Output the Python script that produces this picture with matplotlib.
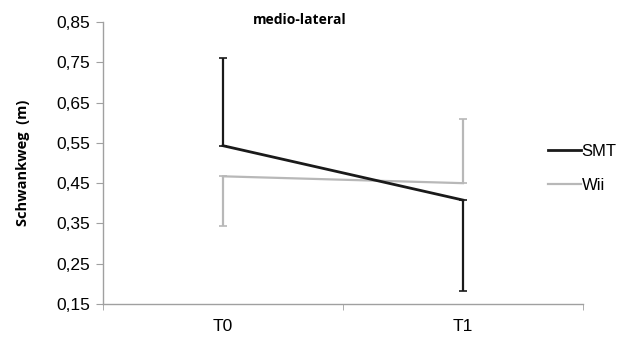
import numpy as np
import matplotlib.pyplot as plt
from matplotlib.ticker import FixedLocator, FuncFormatter

# data
times = ["T0", "T1"]
smt_mean = [0.543, 0.408]
smt_err_up = [0.218, 0.0]
smt_err_down = [0.0, 0.225]
wii_mean = [0.467, 0.450]
wii_err_up = [0.0, 0.160]
wii_err_down = [0.124, 0.0]
y_ticks = [0.15, 0.25, 0.35, 0.45, 0.55, 0.65, 0.75, 0.85]

plt.rcParams['font.family'] = ['Liberation Sans', 'DejaVu Sans']

fig = plt.figure(figsize=(6.34, 3.40), dpi=100)
ax = fig.add_axes([0.1625, 0.106, 0.757, 0.829])

x = np.arange(len(times))
smt_color = "#1a1a1a"
wii_color = "#b8b8b8"

ax.errorbar(x, wii_mean, yerr=[wii_err_down, wii_err_up], color=wii_color,
            lw=1.6, elinewidth=1.6, capsize=3, capthick=1.2, label="Wii", zorder=2)
ax.errorbar(x, smt_mean, yerr=[smt_err_down, smt_err_up], color=smt_color,
            lw=2.0, elinewidth=1.6, capsize=3, capthick=1.2, label="SMT", zorder=3)

ax.set_xlim(-0.5, 1.5)
ax.set_ylim(0.15, 0.85)
ax.set_xticks(x)
ax.set_xticklabels(times, fontsize=12.5)
ax.xaxis.set_minor_locator(FixedLocator([-0.5, 0.5, 1.5]))
ax.tick_params(axis='x', which='major', length=0, pad=11)
ax.tick_params(axis='x', which='minor', length=4, color="#a0a0a0", direction='out')
ax.set_yticks(y_ticks)
ax.yaxis.set_major_formatter(FuncFormatter(lambda v, p: f"{v:.2f}".replace(".", ",")))
ax.tick_params(axis='y', length=5, color="#a0a0a0", labelsize=12.5, pad=4)

for s in ["top", "right"]:
    ax.spines[s].set_visible(False)
for s in ["left", "bottom"]:
    ax.spines[s].set_color("#a0a0a0")
    ax.spines[s].set_linewidth(1.0)

ax.set_ylabel("Schwankweg  (m)", fontsize=10.5, fontweight='bold',
              family=['Open Sans', 'DejaVu Sans'], labelpad=19)
ax.set_title("medio-lateral", fontsize=10, fontweight='bold',
             family=['Open Sans', 'DejaVu Sans'], x=0.41, y=0.962)

handles, labels = ax.get_legend_handles_labels()
order = [1, 0]
leg = ax.legend([handles[i][0] for i in order], [labels[i] for i in order],
                loc='center left', bbox_to_anchor=(0.895, 0.48), frameon=False,
                fontsize=12, handlelength=2.0, handletextpad=0.05, labelspacing=1.15)

fig.savefig("out.png", dpi=100)
